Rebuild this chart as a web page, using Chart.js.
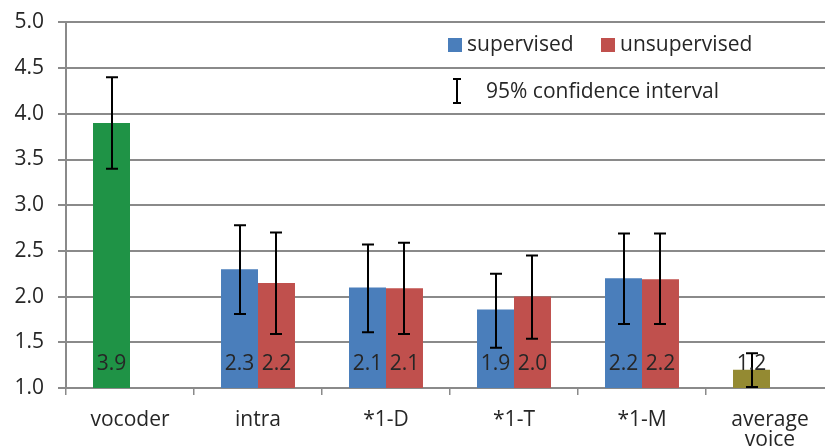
<!DOCTYPE html>
<html>
<head>
<meta charset="utf-8">
<script src="https://cdn.jsdelivr.net/npm/chart.js@4/dist/chart.umd.min.js"></script>
<style>
  html, body { margin: 0; padding: 0; background: #fff; overflow: hidden; }
  #wrap { width: 840px; height: 447px; }
</style>
</head>
<body>
<div id="wrap"><canvas id="chart"></canvas></div>
<script>
const categories = ["vocoder", "intra", "*1-D", "*1-T", "*1-M", ["average", "voice"]]

// first slot: vocoder / supervised / average voice
const supervised = [3.9, 2.3, 2.1, 1.86, 2.2, 1.2]
const unsupervised = [null, 2.15, 2.09, 2.0, 2.19, null]

const supervisedLabels = ["3.9", "2.3", "2.1", "1.9", "2.2", "1.2"]
const unsupervisedLabels = [null, "2.2", "2.1", "2.0", "2.2", null]

// 95% confidence intervals [low, high]
const supervisedCI = [[3.4, 4.4], [1.81, 2.78], [1.61, 2.57], [1.44, 2.25], [1.7, 2.69], [1.01, 1.38]]
const unsupervisedCI = [null, [1.59, 2.7], [1.59, 2.59], [1.54, 2.45], [1.7, 2.69], null]

const yTicks = [1.0, 1.5, 2.0, 2.5, 3.0, 3.5, 4.0, 4.5, 5.0]

const GREEN = "#1f9346"
const BLUE = "#4a7ebb"
const RED = "#c0504d"
const OLIVE = "#948a32"
const TEXT = "#262626"
const GRID = "#8a8a8a"
const FONT = "'Open Sans', sans-serif"

const firstColors = [GREEN, BLUE, BLUE, BLUE, BLUE, OLIVE]

const errorBars = {
  id: "errorBars",
  afterDatasetsDraw(chart) {
    const ctx = chart.ctx
    const y = chart.scales.y
    const sets = [supervisedCI, unsupervisedCI]
    ctx.save()
    ctx.strokeStyle = "#000"
    ctx.lineWidth = 2
    sets.forEach((ci, d) => {
      chart.getDatasetMeta(d).data.forEach((bar, i) => {
        if (!ci[i]) return
        const x = Math.round(bar.x)
        const lo = y.getPixelForValue(ci[i][0])
        const hi = y.getPixelForValue(ci[i][1])
        ctx.beginPath()
        ctx.moveTo(x, lo); ctx.lineTo(x, hi)
        ctx.moveTo(x - 6, lo); ctx.lineTo(x + 6, lo)
        ctx.moveTo(x - 6, hi); ctx.lineTo(x + 6, hi)
        ctx.stroke()
      })
    })
    ctx.restore()
  }
}

const valueLabels = {
  id: "valueLabels",
  afterDraw(chart) {
    const ctx = chart.ctx
    const base = chart.scales.y.getPixelForValue(1)
    const labels = [supervisedLabels, unsupervisedLabels]
    ctx.save()
    ctx.fillStyle = TEXT
    ctx.font = "21px " + FONT
    ctx.textAlign = "center"
    ctx.textBaseline = "middle"
    labels.forEach((lab, d) => {
      chart.getDatasetMeta(d).data.forEach((bar, i) => {
        if (!lab[i]) return
        ctx.fillText(lab[i], bar.x, base - 24)
      })
    })
    ctx.restore()
  }
}

const legendBox = {
  id: "legendBox",
  afterDraw(chart) {
    const ctx = chart.ctx
    ctx.save()
    ctx.font = "21px " + FONT
    ctx.textBaseline = "middle"
    ctx.textAlign = "left"

    ctx.fillStyle = BLUE
    ctx.fillRect(448, 38, 14, 14)
    ctx.fillStyle = TEXT
    ctx.fillText("supervised", 467, 45)

    ctx.fillStyle = RED
    ctx.fillRect(601, 38, 14, 14)
    ctx.fillStyle = TEXT
    ctx.fillText("unsupervised", 620, 45)

    ctx.strokeStyle = "#000"
    ctx.lineWidth = 2
    ctx.beginPath()
    ctx.moveTo(457, 79); ctx.lineTo(457, 103)
    ctx.moveTo(453, 79); ctx.lineTo(461, 79)
    ctx.moveTo(453, 103); ctx.lineTo(461, 103)
    ctx.stroke()
    ctx.fillText("95% confidence interval", 486, 92)
    ctx.restore()
  }
}

const chart = new Chart(document.getElementById("chart"), {
  type: "bar",
  data: {
    labels: categories,
    datasets: [
      { label: "supervised", data: supervised, backgroundColor: firstColors },
      { label: "unsupervised", data: unsupervised, backgroundColor: RED }
    ]
  },
  options: {
    responsive: true,
    maintainAspectRatio: false,
    animation: false,
    categoryPercentage: 0.578,
    barPercentage: 1,
    layout: { padding: { top: 21, right: 6, bottom: 0, left: 0 } },
    plugins: {
      legend: { display: false },
      tooltip: { enabled: false }
    },
    scales: {
      x: {
        offset: true,
        grid: { offset: true, drawOnChartArea: false, tickLength: 7, color: GRID, lineWidth: 1.5 },
        border: { color: GRID, width: 2 },
        ticks: { color: TEXT, font: { family: FONT, size: 21, lineHeight: 0.95 }, padding: 15, maxRotation: 0 },
        afterFit(scale) { scale.height = 59 }
      },
      y: {
        min: 1, max: 5,
        afterBuildTicks(scale) { scale.ticks = yTicks.map(v => ({ value: v })) },
        grid: { color: GRID, lineWidth: 2, tickLength: 8 },
        border: { color: GRID, width: 2 },
        ticks: {
          color: TEXT, font: { family: FONT, size: 21, lineHeight: 0.8 }, padding: 14,
          callback: v => v.toFixed(1)
        },
        afterFit(scale) { scale.width = 66 }
      }
    }
  },
  plugins: [errorBars, valueLabels, legendBox]
})
</script>
</body>
</html>
